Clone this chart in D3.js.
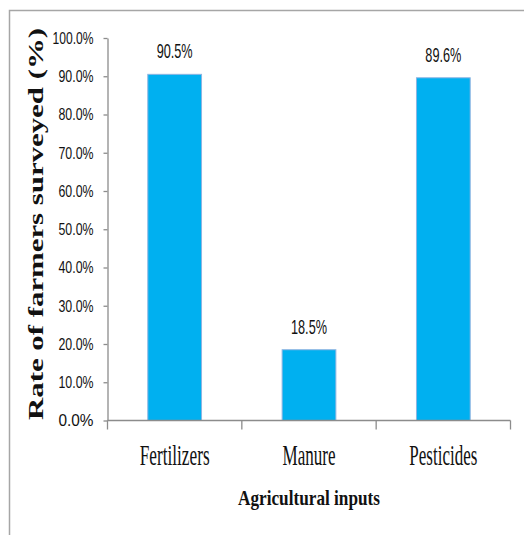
<!DOCTYPE html>
<html>
<head>
<meta charset="utf-8">
<script src="https://cdn.jsdelivr.net/npm/d3@7"></script>
<style>
  html, body { margin: 0; padding: 0; background: #fff; }
  svg { display: block; }
</style>
</head>
<body>
<script>
// Share of surveyed farmers using each agricultural input
const categories = ["Fertilizers", "Manure", "Pesticides"];
const values = [90.5, 18.5, 89.6];
const yTicks = [0, 10, 20, 30, 40, 50, 60, 70, 80, 90, 100];
const valueLabels = ["90.5%", "18.5%", "89.6%"];

const W = 524, H = 535;
const svg = d3.select("body").append("svg").attr("width", W).attr("height", H);

// frame around the whole figure
svg.append("rect")
  .attr("x", 9.5).attr("y", 10.5)
  .attr("width", 600).attr("height", 600)
  .attr("fill", "none").attr("stroke", "#a6a6a6").attr("stroke-width", 1.5);

const plotLeft = 107.5, plotRight = 510.5, plotTop = 38, plotBottom = 420.5;

const x = d3.scaleBand().domain(categories).range([plotLeft, plotRight])
  .paddingInner(0.6).paddingOuter(0.3);
const y = d3.scaleLinear().domain([0, 100]).range([plotBottom, plotTop]);

const axisColor = "#8c8c8c";
const numFont = "'Liberation Sans', Arial, sans-serif";
const serif = "'Liberation Serif', 'Times New Roman', serif";

// y axis
const yAxis = svg.append("g").attr("transform", `translate(${plotLeft},0)`)
  .call(d3.axisLeft(y).tickValues(yTicks).tickSize(4).tickSizeOuter(0)
    .tickPadding(10).tickFormat(d => d.toFixed(1) + "%"));
yAxis.select(".domain").attr("stroke", axisColor).attr("stroke-width", 1.3);
yAxis.selectAll(".tick line").attr("stroke", axisColor).attr("stroke-width", 1.3);
yAxis.selectAll(".tick text")
  .attr("font-family", numFont).attr("font-size", 17).attr("fill", "#111")
  .attr("textLength", d => d === 100 ? 41 : 35)
  .attr("lengthAdjust", "spacingAndGlyphs");

// bars
svg.append("g").selectAll("rect").data(values).join("rect")
  .attr("x", (d, i) => x(categories[i]))
  .attr("y", d => y(d))
  .attr("width", x.bandwidth())
  .attr("height", d => y(0) - y(d))
  .attr("fill", "#00b0f0")
  .attr("stroke", "#8db4e2").attr("stroke-width", 1);

// x axis line and tick marks at category boundaries
svg.append("line")
  .attr("x1", plotLeft).attr("x2", plotRight).attr("y1", y(0)).attr("y2", y(0))
  .attr("stroke", axisColor).attr("stroke-width", 1.3);
const bounds = d3.range(categories.length + 1).map(i => x.range()[0] + i * x.step());
svg.append("g").selectAll("line").data(bounds).join("line")
  .attr("x1", d => d).attr("x2", d => d)
  .attr("y1", y(0)).attr("y2", y(0) + 9)
  .attr("stroke", axisColor).attr("stroke-width", 1.3);

// category labels
const catWidths = { "Fertilizers": 70, "Manure": 53, "Pesticides": 68 };
svg.append("g").selectAll("text").data(categories).join("text")
  .attr("x", d => x(d) + x.bandwidth() / 2)
  .attr("y", y(0) + 44.5)
  .attr("text-anchor", "middle")
  .attr("font-family", serif).attr("font-size", 29).attr("fill", "#111")
  .attr("textLength", d => catWidths[d])
  .attr("lengthAdjust", "spacingAndGlyphs")
  .text(d => d);

// value labels above the bars
svg.append("g").selectAll("text").data(values).join("text")
  .attr("x", (d, i) => x(categories[i]) + x.bandwidth() / 2)
  .attr("y", d => y(d) - 16)
  .attr("text-anchor", "middle")
  .attr("font-family", numFont).attr("font-size", 21).attr("fill", "#111")
  .attr("textLength", 36)
  .attr("lengthAdjust", "spacingAndGlyphs")
  .text((d, i) => valueLabels[i]);

// axis titles
svg.append("text")
  .attr("x", (plotLeft + plotRight) / 2).attr("y", 505)
  .attr("text-anchor", "middle")
  .attr("font-family", serif).attr("font-weight", "bold").attr("font-size", 21)
  .attr("fill", "#111")
  .attr("textLength", 142).attr("lengthAdjust", "spacingAndGlyphs")
  .text("Agricultural inputs");

svg.append("text")
  .attr("transform", "translate(43,224) rotate(-90)")
  .attr("text-anchor", "middle")
  .attr("font-family", serif).attr("font-weight", "bold").attr("font-size", 20)
  .attr("fill", "#111")
  .attr("textLength", 392).attr("lengthAdjust", "spacingAndGlyphs")
  .text("Rate of farmers surveyed (%)");
</script>
</body>
</html>
